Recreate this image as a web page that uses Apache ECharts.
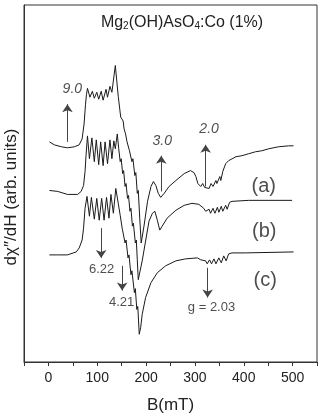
<!DOCTYPE html>
<html><head><meta charset="utf-8">
<script src="https://cdn.jsdelivr.net/npm/echarts@6/dist/echarts.min.js"></script>
<style>html,body{margin:0;padding:0;background:#fff}#c{width:321px;height:419px}</style>
</head><body><div id="c"></div>
<script>
// Trace (a)
const aB = [2,12,27,39,53,63,69,73,76,78,80,85,90,94,99,103,108,112,118,121,126,130,137,143,148,153,155,158,161,163,166,168,171,173,177,179,182,184,187,190,196,203,210,215,220,225,230,237,247,261,278,291,298,302,306,312,316,320,324,329,333,337,343,345,351,353,357,363,369,384,396,410,424,437,451,471,492,502];
const aV = [222,219,217,216,217,219,225,240,260,270,276,267,273,266,272,265,273,264,275,267,278,272,299,268,247,243,235,230,222,224,213,215,202,205,188,191,170,173,145,120,138,162,177,182,178,170,166,170,177,183,190,193,191,187,180,177,180,176,178,175,180,177,183,180,187,183,192,200,203,207,208,210,212,213,215,217,218,218];
// Trace (b)
const bB = [2,19,39,60,67,72,75,77,80,84,89,94,98,103,107,112,116,121,126,130,134,137,141,144,147,149,152,154,157,159,162,164,167,169,172,174,178,180,182,184,192,199,206,213,218,223,228,233,243,261,278,294,308,318,322,329,332,337,341,346,349,354,357,363,366,371,376,410,499];
const bV = [173,172,169,169,172,178,192,208,228,205,226,202,224,199,222,198,222,200,224,205,223,215,230,215,202,205,190,193,177,180,165,168,152,155,137,140,120,123,103,83,102,122,142,150,152,143,133,137,145,153,158,160,159,155,152,154,150,155,150,156,151,157,152,158,154,161,162,163,163];
// Trace (c)
const cB = [2,19,39,57,63,69,72,75,79,84,88,94,99,104,109,114,119,124,128,133,138,143,147,151,153,157,159,163,165,169,171,176,178,181,183,186,189,192,199,210,223,240,261,281,305,312,316,322,325,330,334,339,343,349,354,359,364,369,376,403,502];
const cV = [108,108,108,111,115,123,135,155,167,147,166,144,165,143,165,143,166,145,169,150,175,160,148,135,137,120,123,105,108,88,92,70,74,53,56,28,35,48,65,80,90,97,102,104,105,103,101,102,99,103,99,104,99,105,100,107,102,109,110,110,111];

// Arrows (field position, start value, end value)
const arrowB = [39, 231, 322, 108, 151, 326];
const arrowFrom = [222, 172, 177, 135, 97, 95];
const arrowTo = [260, 208, 219, 105, 72, 65];

// Annotation labels
const noteText = ['9.0', '3.0', '2.0', '6.22', '4.21', 'g = 2.03', '(a)', '(b)', '(c)'];
const noteB = [49, 233, 329, 109, 150, 334, 441, 442, 444];
const noteV = [275, 223, 235, 93, 60, 55, 177, 132, 82];

const xTicks = [0, 100, 200, 300, 400, 500];

const FONT = "'Liberation Sans', Arial, Helvetica, sans-serif";
const zip = (x, y) => x.map((v, i) => [v, y[i]]);
const lineColor = '#1a1a1a';

function noteStyle(t) {
  if (t === '9.0' || t === '3.0' || t === '2.0') return {fontSize: 14, fontStyle: 'italic'};
  if (t.charAt(0) === '(') return {fontSize: 20, fontStyle: 'normal'};
  return {fontSize: 13, fontStyle: 'normal'};
}

const chart = echarts.init(document.getElementById('c'), null, {renderer: 'canvas'});
const traceSeries = [zip(aB, aV), zip(bB, bV), zip(cB, cV)].map(d => ({
  type: 'line', data: d, showSymbol: false, symbol: 'none', smooth: false,
  lineStyle: {color: lineColor, width: 1}, silent: true, animation: false
}));

chart.setOption({
  animation: false,
  grid: {left: 24, top: 5, right: 4, bottom: 54, show: true, borderColor: '#333', borderWidth: 1, backgroundColor: 'transparent'},
  xAxis: {
    type: 'value', min: -50, max: 550, interval: 50,
    axisLine: {show: true, onZero: false, lineStyle: {color: '#333', width: 1}},
    axisTick: {show: true, inside: false, length: 4, lineStyle: {color: '#333'}},
    axisLabel: {margin: 9, fontSize: 14, color: '#222', fontFamily: FONT,
      formatter: v => (xTicks.indexOf(v) >= 0 ? String(v) : '')},
    splitLine: {show: false},
    name: 'B(mT)', nameLocation: 'middle', nameGap: 35,
    nameTextStyle: {fontSize: 17, color: '#222', fontFamily: FONT}
  },
  yAxis: {
    type: 'value', min: 0, max: 360,
    axisLine: {show: true, onZero: false, lineStyle: {color: '#333', width: 1}},
    axisTick: {show: false}, axisLabel: {show: false}, splitLine: {show: false}
  },
  graphic: [{
    type: 'text', x: 182, y: 23, z: 10,
    style: {
      text: '{n|Mg}{s|2}{n|(OH)AsO}{s|4}{n|:Co (1%)}',
      align: 'center', verticalAlign: 'middle',
      rich: {
        n: {fontSize: 16, lineHeight: 16, fontFamily: FONT, fill: '#222', color: '#222'},
        s: {fontSize: 10, lineHeight: 8, verticalAlign: 'bottom', fontFamily: FONT, fill: '#222', color: '#222'}
      }
    }
  }, {
    type: 'text', x: 11, y: 197, rotation: Math.PI / 2, z: 10,
    style: {
      text: 'd\u03c7\u2033/dH (arb. units)', align: 'center', verticalAlign: 'middle',
      fontSize: 17, fontFamily: FONT, fill: '#222'
    }
  }],
  series: traceSeries.concat([
    {
      type: 'line', data: [], silent: true, animation: false,
      markLine: {
        silent: true, animation: false, symbol: ['none', 'arrow'], symbolSize: 8,
        label: {show: false},
        lineStyle: {color: '#444', width: 1, type: 'solid'},
        itemStyle: {color: '#222'},
        emphasis: {disabled: true},
        data: arrowB.map((b, i) => [{coord: [b, arrowFrom[i]]}, {coord: [b, arrowTo[i]]}])
      }
    },
    {
      type: 'scatter', symbolSize: 0, silent: true, animation: false, z: 5,
      data: noteText.map((t, i) => {
        const st = noteStyle(t);
        return {value: [noteB[i], noteV[i]], name: t,
          label: {show: true, position: 'inside', formatter: t, color: '#222',
            fontFamily: FONT, fontSize: st.fontSize, fontStyle: st.fontStyle}};
      })
    }
  ])
});
</script>
</body></html>
